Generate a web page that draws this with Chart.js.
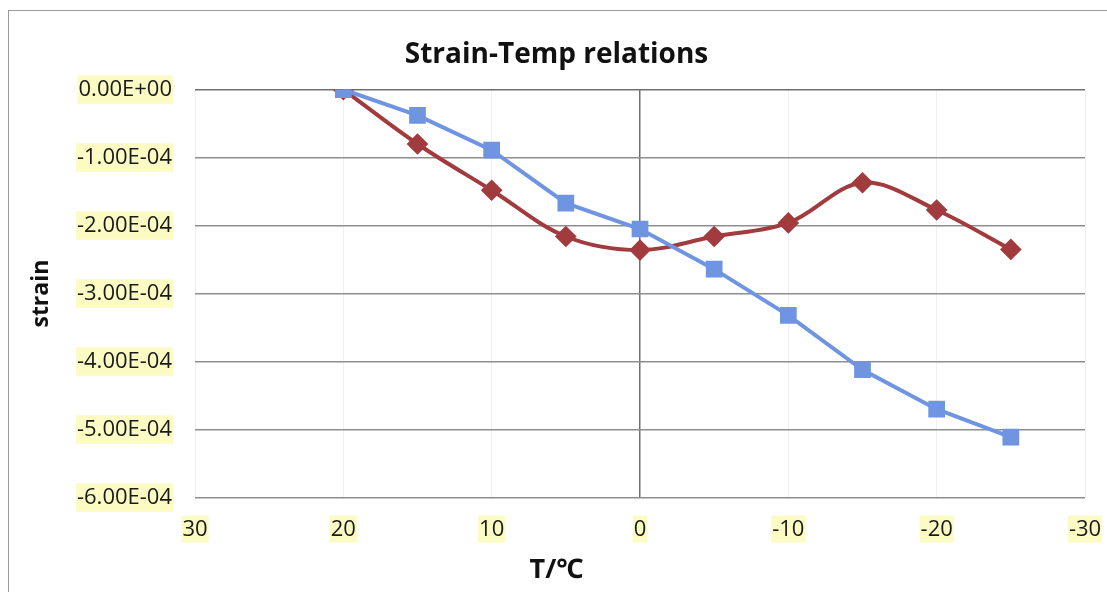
<!DOCTYPE html>
<html>
<head>
<meta charset="utf-8">
<script src="https://cdn.jsdelivr.net/npm/chart.js@4.4.0/dist/chart.umd.min.js"></script>
<style>
  html, body { margin: 0; padding: 0; background: #fff; }
  #wrap { position: relative; width: 1107px; height: 592px; }
  #frame { position: absolute; left: 8px; top: 10px; right: 0; bottom: 0;
           border-top: 1.5px solid #9a9a9a; border-left: 1.5px solid #9a9a9a; pointer-events: none; }
</style>
</head>
<body>
<div id="wrap">
  <canvas id="strainChart" width="1107" height="592"></canvas>
  <div id="frame"></div>
</div>
<script>
const temps = [20, 15, 10, 5, 0, -5, -10, -15, -20, -25];
const strainBlue = [0, -0.38e-4, -0.89e-4, -1.67e-4, -2.05e-4, -2.64e-4, -3.32e-4, -4.12e-4, -4.70e-4, -5.11e-4];
const strainRed = [0, -0.80e-4, -1.48e-4, -2.16e-4, -2.36e-4, -2.16e-4, -1.96e-4, -1.37e-4, -1.77e-4, -2.35e-4];
const xTicks = [30, 20, 10, 0, -10, -20, -30];
const yMin = -6e-4, yMax = 0, yStep = 1e-4;

function sci(v) {
    const s = Number(v).toExponential(2).toUpperCase();
    const m = s.match(/^(-?[\d.]+)E([+-])(\d+)$/);
    if (!m) return s;
    return m[1] + 'E' + m[2] + m[3].padStart(2, '0');
}

const pts = (ys) => temps.map((t, i) => ({ x: t, y: ys[i] }));
const FONT = '"Open Sans", "Noto Sans", sans-serif';

const ctx = document.getElementById('strainChart').getContext('2d');
new Chart(ctx, {
    type: 'scatter',
    data: {
        datasets: [{
            label: 'blue',
            data: pts(strainBlue),
            showLine: true,
            borderColor: '#6f95e2',
            backgroundColor: '#6f95e2',
            borderWidth: 4,
            pointStyle: 'rect',
            pointRadius: 9,
            pointHoverRadius: 9,
            tension: 0
        }, {
            label: 'red',
            data: pts(strainRed),
            showLine: true,
            borderColor: '#a23b3e',
            backgroundColor: '#a23b3e',
            borderWidth: 4,
            pointStyle: 'rectRot',
            pointRadius: 8,
            pointHoverRadius: 8,
            tension: 0.35
        }]
    },
    options: {
        responsive: false,
        animation: false,
        layout: { padding: { left: 28, right: 22, top: 10, bottom: 0 } },
        plugins: {
            legend: { display: false },
            tooltip: { enabled: false },
            title: {
                display: true,
                text: 'Strain-Temp relations',
                color: '#111',
                font: { family: FONT, size: 28, weight: 'bold' },
                padding: { top: 28, bottom: 18 }
            },
            subtitle: {
                display: true,
                position: 'bottom',
                text: 'T/℃',
                color: '#111',
                font: { family: FONT, size: 27, weight: 'bold' },
                padding: { top: 12, bottom: 5 }
            }
        },
        scales: {
            x: {
                type: 'linear',
                reverse: true,
                min: -30,
                max: 30,
                afterBuildTicks: (scale) => { scale.ticks = xTicks.map(v => ({ value: v })); },
                afterFit: (scale) => { scale.height = 45; scale.paddingLeft = 0; scale.paddingRight = 0; },
                border: { display: false },
                grid: {
                    drawTicks: false,
                    color: (c) => c.tick && c.tick.value === 0 ? '#707070' : 'rgba(0,0,0,0.06)',
                    lineWidth: (c) => c.tick && c.tick.value === 0 ? 1.5 : 1
                },
                ticks: {
                    padding: 19,
                    color: '#1a1a1a',
                    font: { family: FONT, size: 22 },
                    showLabelBackdrop: true,
                    backdropColor: 'rgba(250,250,185,0.85)',
                    backdropPadding: 1
                }
            },
            y: {
                min: yMin,
                max: yMax,
                afterFit: (scale) => { scale.width = 167; },
                border: { display: false },
                grid: {
                    drawTicks: false,
                    color: (c) => c.tick && c.tick.value === 0 ? '#707070' : '#8e8e8e',
                    lineWidth: 1.5
                },
                ticks: {
                    stepSize: yStep,
                    padding: 23,
                    color: '#1a1a1a',
                    font: { family: FONT, size: 22 },
                    callback: (v) => sci(v),
                    showLabelBackdrop: true,
                    backdropColor: 'rgba(250,250,185,0.85)',
                    backdropPadding: 1
                },
                title: {
                    display: true,
                    text: 'strain',
                    color: '#111',
                    font: { family: FONT, size: 23, weight: 'bold' },
                    padding: 0
                }
            }
        }
    }
});
</script>
</body>
</html>
